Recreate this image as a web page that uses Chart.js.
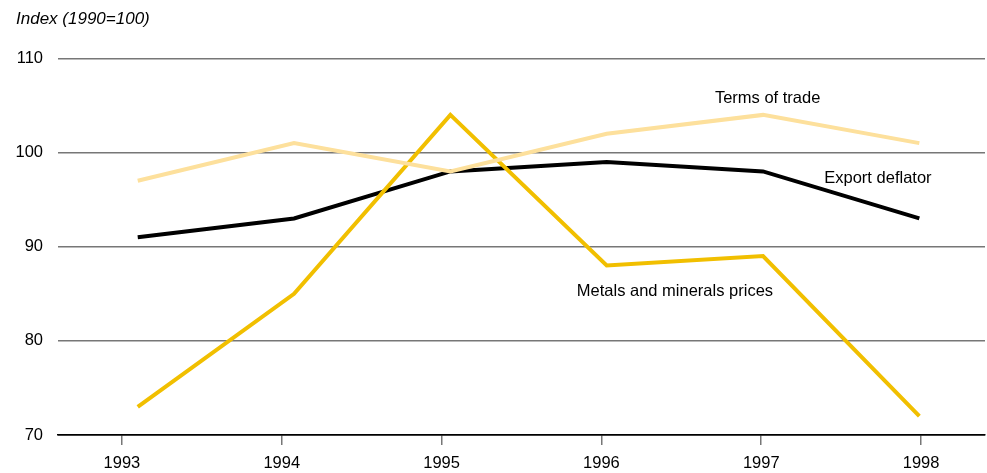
<!DOCTYPE html>
<html>
<head>
<meta charset="utf-8">
<script src="https://cdn.jsdelivr.net/npm/chart.js@4.4.1/dist/chart.umd.min.js"></script>
<style>
  html, body { margin: 0; padding: 0; background: #fff; }
  #wrap { width: 987px; height: 473px; }
</style>
</head>
<body>
<div id="wrap"><canvas id="indexChart"></canvas></div>
<script>
// Data
const years = [1993, 1994, 1995, 1996, 1997, 1998];
const termsOfTrade = [97, 101, 98, 102, 104, 101];
const exportDeflator = [91, 93, 98, 99, 98, 93];
const metalsPrices = [73, 85, 104, 88, 89, 72];
const yTicks = [70, 80, 90, 100, 110];

// Series labels drawn next to the lines (in data units of the year axis)
const seriesLabels = [
    { text: 'Terms of trade', year: 1997.04, value: 105.7 },
    { text: 'Export deflator', year: 1997.73, value: 97.3 },
    { text: 'Metals and minerals prices', year: 1996.46, value: 85.2 }
];

const FONT = "'Liberation Sans', Arial, sans-serif";

function toPoints(values) {
    return years.map((y, i) => ({ x: y, y: values[i] }));
}

// Draw the text labels beside each line
const lineLabels = {
    id: 'lineLabels',
    afterDatasetsDraw(chart) {
        const { ctx, scales } = chart;
        ctx.save();
        ctx.font = '16.5px ' + FONT;
        ctx.fillStyle = '#000';
        ctx.textAlign = 'center';
        ctx.textBaseline = 'middle';
        seriesLabels.forEach(l => {
            ctx.fillText(l.text, scales.x.getPixelForValue(l.year), scales.y.getPixelForValue(l.value));
        });
        ctx.restore();
    }
};

const lineStyle = { borderWidth: 4, pointRadius: 0, tension: 0, xAxisID: 'xData' };

const ctx = document.getElementById('indexChart').getContext('2d');
new Chart(ctx, {
    type: 'line',
    data: {
        datasets: [
            { label: 'Terms of trade', data: toPoints(termsOfTrade), borderColor: '#fde09c', ...lineStyle },
            { label: 'Metals and minerals prices', data: toPoints(metalsPrices), borderColor: '#f1bf00', ...lineStyle },
            { label: 'Export deflator', data: toPoints(exportDeflator), borderColor: '#000000', ...lineStyle }
        ]
    },
    options: {
        responsive: true,
        maintainAspectRatio: false,
        animation: false,
        layout: { padding: { left: 16, right: 2, top: 0, bottom: 0 } },
        plugins: {
            legend: { display: false },
            tooltip: { enabled: false },
            title: {
                display: true,
                text: 'Index (1990=100)',
                align: 'start',
                color: '#000',
                font: { family: FONT, size: 17, style: 'italic', weight: 'normal' },
                padding: { top: 9, bottom: 29 }
            }
        },
        scales: {
            // visible year axis
            x: {
                type: 'linear',
                min: 1992.6,
                max: 1998.4,
                afterFit(scale) { scale.height = 38; },
                grid: {
                    drawOnChartArea: false,
                    drawTicks: true,
                    tickLength: 10,
                    color: '#777',
                    lineWidth: 1.5
                },
                border: { display: true, color: '#000', width: 1.5 },
                ticks: {
                    stepSize: 1,
                    includeBounds: false,
                    autoSkip: false,
                    maxRotation: 0,
                    padding: 10,
                    color: '#000',
                    font: { family: FONT, size: 16.5, lineHeight: 1 },
                    callback: v => String(v)
                }
            },
            // hidden axis the lines are plotted on (points sit slightly off the ticks in the original)
            xData: {
                type: 'linear',
                display: false,
                min: 1992.49,
                max: 1998.42
            },
            y: {
                min: 70,
                max: 110,
                afterFit(scale) { scale.width = 42; },
                afterBuildTicks(scale) { scale.ticks = yTicks.map(v => ({ value: v })); },
                grid: {
                    drawTicks: false,
                    color: c => c.tick && c.tick.value === 70 ? '#000' : '#777',
                    lineWidth: 1.5
                },
                border: { display: false },
                ticks: {
                    padding: 15,
                    color: '#000',
                    font: { family: FONT, size: 16.5 }
                }
            }
        }
    },
    plugins: [lineLabels]
});
</script>
</body>
</html>
